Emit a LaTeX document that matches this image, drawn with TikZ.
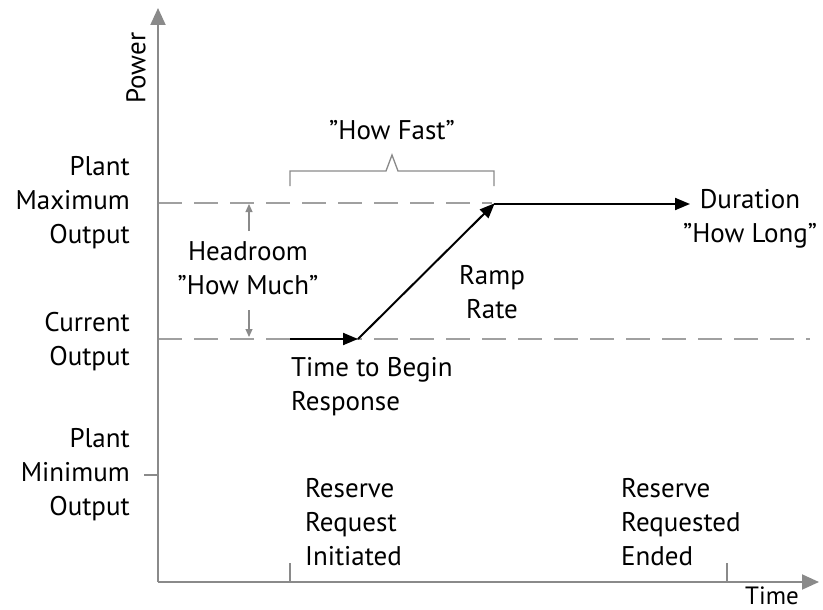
\documentclass[tikz,border=0pt]{standalone}
\usepackage{fontspec}
\setmainfont{PT Sans}
\usetikzlibrary{arrows.meta}
\definecolor{axisgray}{HTML}{8A8A8A}
\definecolor{dashgray}{HTML}{A0A0A0}
\tikzset{
  lbl/.style={inner sep=0pt, font=\fontsize{27}{34}\selectfont, text=black},
  axisline/.style={draw=axisgray, line width=2pt},
  axisarrow/.style={axisline, -{Triangle[length=17pt,width=15pt]}},
  tickline/.style={draw=axisgray, line width=1.6pt},
  refline/.style={draw=dashgray, line width=1.4pt, dash pattern=on 24pt off 12pt},
  headarrow/.style={draw=axisgray, line width=1.2pt, -{Triangle[length=8pt,width=7pt]}},
  bracel/.style={draw=axisgray, line width=1.3pt},
  blackarrow/.style={draw=black, line width=2pt, -{Triangle[length=15pt,width=12pt]}},
  blackline/.style={draw=black, line width=2pt}
}
\begin{document}
\begin{tikzpicture}[x=1pt,y=-1pt]
\useasboundingbox (0,0) rectangle (823,610);
% coordinates
\coordinate (O) at (158,582);
\coordinate (ytop) at (158,8);
\coordinate (xend) at (819,582);
\coordinate (tA0) at (290,582); \coordinate (tA1) at (290,563);
\coordinate (tB0) at (727,582); \coordinate (tB1) at (727,563);
\coordinate (tm0) at (144,475); \coordinate (tm1) at (158,475);
\coordinate (maxL) at (158,203); \coordinate (maxR) at (492,203);
\coordinate (curL) at (158,339); \coordinate (curR) at (810,339);
\coordinate (hu0) at (249,231); \coordinate (hu1) at (249,204);
\coordinate (hd0) at (249,310); \coordinate (hd1) at (249,337);
\coordinate (p0) at (290,339); \coordinate (p1) at (358,339);
\coordinate (p2) at (494,204); \coordinate (p3) at (690,204);
\coordinate (b1) at (290,186); \coordinate (b2) at (290,171);
\coordinate (b3) at (386,171); \coordinate (b4) at (392,155);
\coordinate (b5) at (398,171); \coordinate (b6) at (494,171);
\coordinate (b7) at (494,186);
% reference lines
\draw[refline] (maxL) -- (maxR);
\draw[refline] (curL) -- (curR);
% axes
\draw[axisarrow] (O) -- (ytop);
\draw[axisarrow] (O) -- (xend);
\draw[tickline] (tA0) -- (tA1);
\draw[tickline] (tB0) -- (tB1);
\draw[tickline] (tm0) -- (tm1);
% headroom arrows
\draw[headarrow] (hu0) -- (hu1);
\draw[headarrow] (hd0) -- (hd1);
% brace
\draw[bracel] (b1) -- (b2) -- (b3) -- (b4) -- (b5) -- (b6) -- (b7);
% response path
\draw[blackarrow] (p0) -- (p1);
\draw[blackarrow, shorten >=-1pt] (p1) -- (p2);
\draw[blackarrow] (p2) -- (p3);
% labels
\node[lbl, rotate=90] (power) at (136,68) {Power};
\node[lbl, anchor=east, align=right] (ymax) at (130,203) {Plant\\Maximum\\Output};
\node[lbl, anchor=east, align=right] (ycur) at (130,342) {Current\\Output};
\node[lbl, anchor=east, align=right] (ymin) at (130,475) {Plant\\Minimum\\Output};
\node[lbl, align=center] (head) at (248,268) {Headroom\\”How Much”};
\node[lbl] (fast) at (392,130) {”How Fast”};
\node[lbl, align=center] (ramp) at (492,292) {Ramp\\Rate};
\node[lbl, align=center] (dur) at (750,219) {Duration\\”How Long”};
\node[lbl, anchor=west, align=left] (begin) at (291,387) {Time to Begin\\Response};
\node[lbl, anchor=west, align=left] (rinit) at (305,522) {Reserve\\Request\\Initiated};
\node[lbl, anchor=west, align=left] (rend) at (621,522) {Reserve\\Requested\\Ended};
\node[lbl, font=\fontsize{25}{30}\selectfont] (time) at (772,596) {Time};
\end{tikzpicture}
\end{document}
